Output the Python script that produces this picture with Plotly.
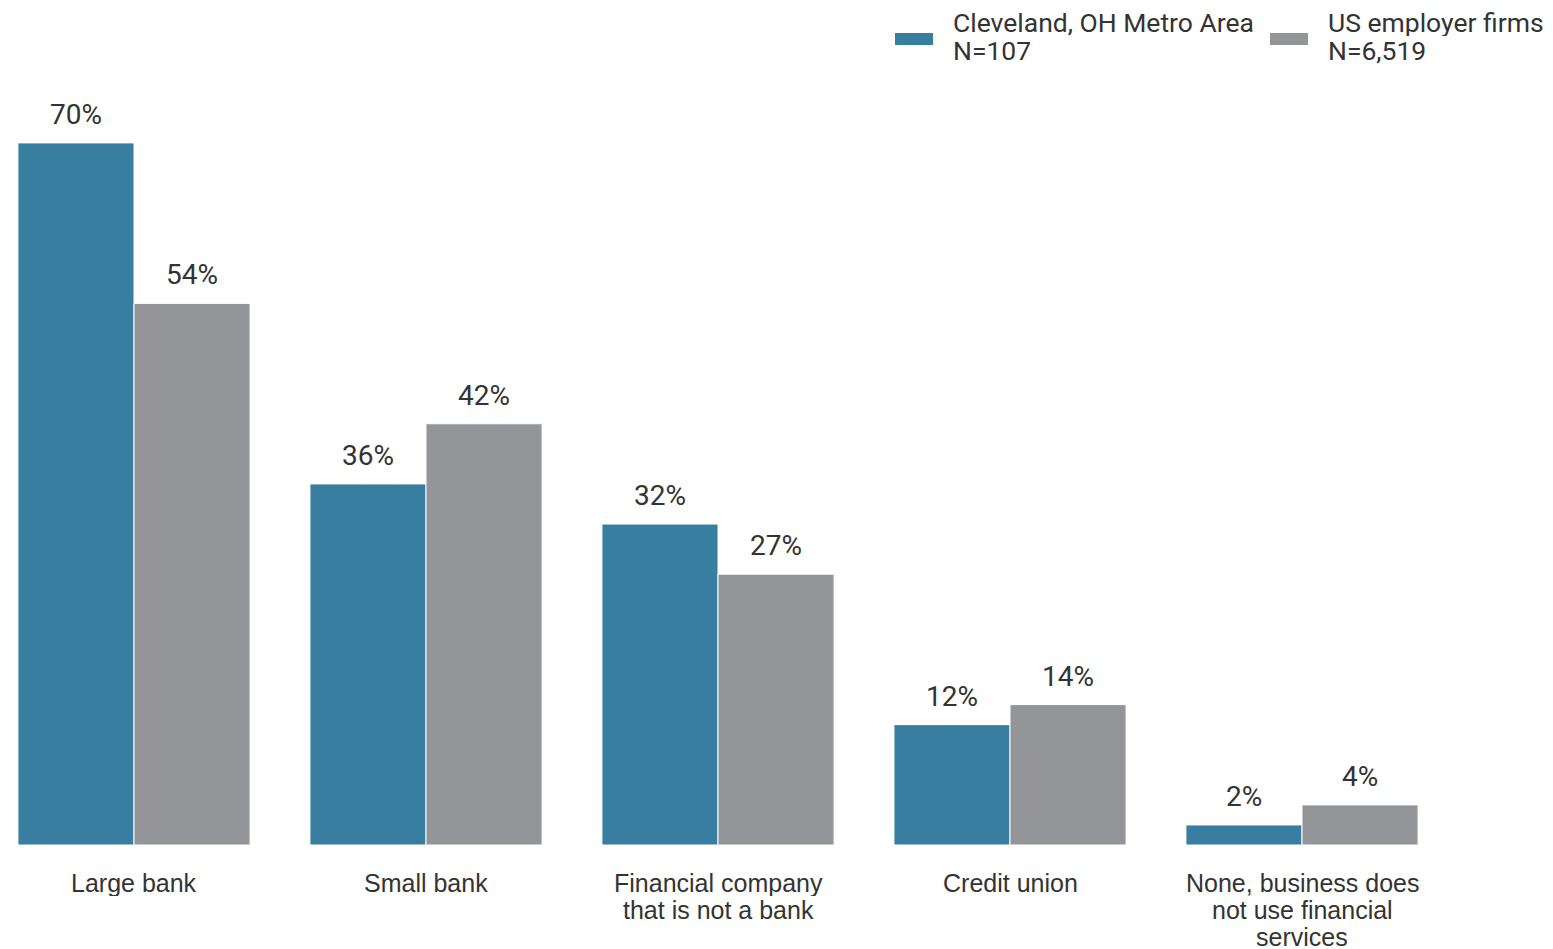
import plotly.graph_objects as go

categories = ["Large bank", "Small bank", "Financial company<br>that is not a bank",
              "Credit union", "None, business does<br>not use financial<br>services"]
cleveland = [70, 36, 32, 12, 2]
us_firms = [54, 42, 27, 14, 4]
series_names = ["Cleveland, OH Metro Area", "US employer firms"]
sample_sizes = ["N=107", "N=6,519"]
colors = ["#387EA0", "#939598"]

VAL_FONT = "Roboto"
CAT_FONT = "Liberation Sans"
TXT = "#333333"

W, H = 1553, 949
OFF = 8                      # page body margin offset
T, B = 80 - OFF, 104 + OFF
PH = H - T - B


def py(p):
    """page pixel row -> paper y"""
    return (H - B - (p - OFF)) / PH


def px(p):
    """page pixel column -> paper x"""
    return (p - OFF) / W


fig = go.Figure()
for vals, name, col in zip([cleveland, us_firms], series_names, colors):
    fig.add_trace(go.Bar(x=categories, y=vals, name=name, marker_color=col,
                         marker_line_color="white", marker_line_width=1,
                         showlegend=False, textposition="none",
                         hovertemplate="%{y}%<extra>" + name + "</extra>"))

# value labels
for i, vals in enumerate([cleveland, us_firms]):
    for j, v in enumerate(vals):
        fig.add_annotation(x=categories[j], y=v, text=f"{v}%", showarrow=False,
                           xref="x", yref="y", xshift=(-58 if i == 0 else 58),
                           yanchor="bottom", yshift=10,
                           font=dict(family=VAL_FONT, size=28, color=TXT))

# category labels (tight line spacing)
for cat in categories:
    for k, line in enumerate(cat.split("<br>")):
        fig.add_annotation(x=cat, y=0, xref="x", yref="y", text=line, showarrow=False,
                           yanchor="middle", yshift=-37 - 27 * k, height=27,
                           font=dict(family=CAT_FONT, size=25, color=TXT))

# legend (manual, to match swatch shape and spacing)
leg_sw_x = [895, 1270]
for name, n, col, sx in zip(series_names, sample_sizes, colors, leg_sw_x):
    fig.add_shape(type="rect", xref="paper", yref="paper",
                  x0=px(sx), x1=px(sx + 38), y0=py(45), y1=py(33),
                  fillcolor=col, line_width=0)
    for k, line in enumerate([name, n]):
        fig.add_annotation(xref="paper", yref="paper", x=px(sx + 57), y=py(22.5 + 28 * k),
                           xanchor="left", yanchor="middle", text=line, showarrow=False,
                           height=27, borderpad=0,
                           font=dict(family=VAL_FONT, size=26.5, color=TXT))

x0 = -(134 - OFF) / 292
fig.update_layout(
    width=W, height=H,
    plot_bgcolor="white", paper_bgcolor="white",
    barmode="group", bargap=0.205, bargroupgap=0,
    margin=dict(l=0, r=0, t=T, b=B, autoexpand=False),
    showlegend=False,
    font=dict(family=VAL_FONT, size=22, color=TXT),
    xaxis=dict(range=[x0, x0 + W / 292], showgrid=False, showline=False, zeroline=False,
               showticklabels=False, ticks="", automargin=False),
    yaxis=dict(range=[0, PH / 10.03], visible=False, showgrid=False, zeroline=False,
               automargin=False),
)
fig.write_html("out.html")
